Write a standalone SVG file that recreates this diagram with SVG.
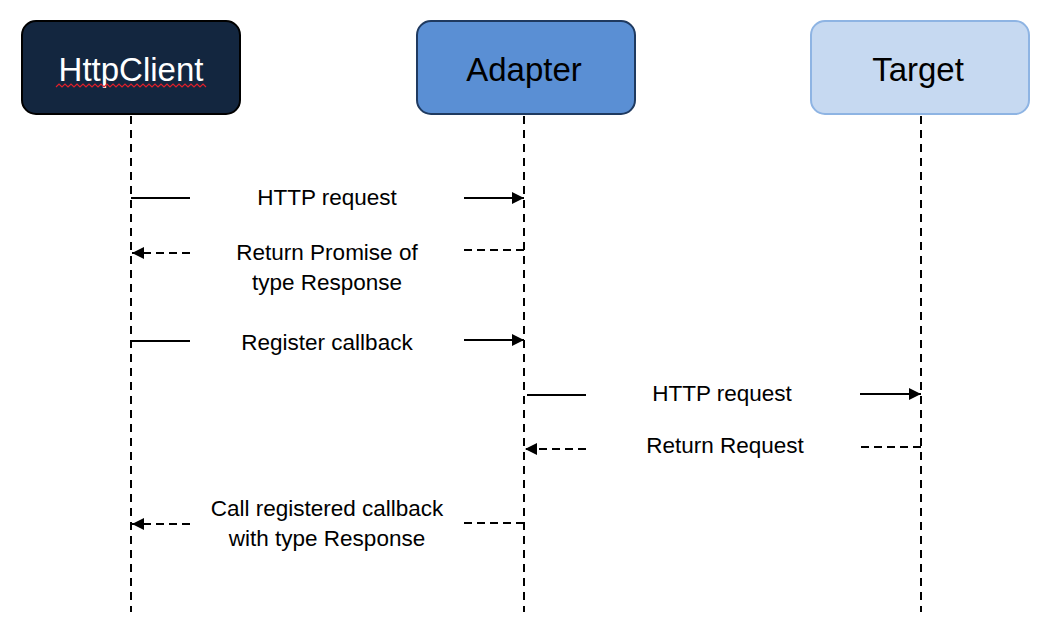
<svg xmlns="http://www.w3.org/2000/svg" width="1058" height="640" viewBox="0 0 1058 640">
<style>
.box{stroke-width:2}
.title{font-family:"Liberation Sans",Arial,sans-serif;font-size:33px;text-anchor:middle}
.lbl{font-family:"Liberation Sans",Arial,sans-serif;font-size:22.5px;text-anchor:middle;fill:#000}
.life{stroke:#000;stroke-width:2;stroke-dasharray:8 6;fill:none}
.solid{stroke:#000;stroke-width:2;fill:none}
.dash{stroke:#000;stroke-width:2;stroke-dasharray:8 5;fill:none}
</style>
<defs>
<marker id="ah" viewBox="0 0 10 10" refX="10" refY="5" markerWidth="12" markerHeight="12" markerUnits="userSpaceOnUse" orient="auto">
<path d="M0,0 L10,5 L0,10 Z" fill="#000"/>
</marker>
</defs>
<rect width="1058" height="640" fill="#fff"/>
<g id="httpclient">
<rect class="box" x="22" y="21" width="218" height="93" rx="14" fill="#13263f" stroke="#000"/>
<text class="title" x="131" y="81" fill="#fff">HttpClient</text>
<polyline points="56,87 59,84 62,87 65,84 68,87 71,84 74,87 77,84 80,87 83,84 86,87 89,84 92,87 95,84 98,87 101,84 104,87 107,84 110,87 113,84 116,87 119,84 122,87 125,84 128,87 131,84 134,87 137,84 140,87 143,84 146,87 149,84 152,87 155,84 158,87 161,84 164,87 167,84 170,87 173,84 176,87 179,84 182,87 185,84 188,87 191,84 194,87 197,84 200,87 203,84 206,87" fill="none" stroke="#e0202a" stroke-width="1.2"/>
</g>
<g id="adapter">
<rect class="box" x="417" y="21" width="218" height="93" rx="14" fill="#5a8fd4" stroke="#1f3a60"/>
<text class="title" x="524" y="81" fill="#000">Adapter</text>
</g>
<g id="target">
<rect class="box" x="811" y="21" width="218" height="93" rx="14" fill="#c6d9f1" stroke="#8eb4e3"/>
<text class="title" x="918" y="81" fill="#000">Target</text>
</g>
<g id="lifelines">
<line class="life" x1="131" y1="116" x2="131" y2="612"/>
<line class="life" x1="524" y1="116" x2="524" y2="612"/>
<line class="life" x1="921" y1="116" x2="921" y2="612"/>
</g>
<g id="connectors">
<line class="solid" x1="131" y1="198" x2="190" y2="198"/>
<line class="solid" x1="464" y1="198" x2="524" y2="198" marker-end="url(#ah)"/>
<line class="dash" x1="524" y1="250" x2="464" y2="250"/>
<line class="dash" x1="190" y1="253" x2="132" y2="253" marker-end="url(#ah)"/>
<line class="solid" x1="131" y1="341" x2="190" y2="341"/>
<line class="solid" x1="464" y1="340" x2="524" y2="340" marker-end="url(#ah)"/>
<line class="solid" x1="527" y1="395" x2="586" y2="395"/>
<line class="solid" x1="860" y1="394" x2="921" y2="394" marker-end="url(#ah)"/>
<line class="dash" x1="921" y1="447" x2="860" y2="447"/>
<line class="dash" x1="586" y1="449" x2="525" y2="449" marker-end="url(#ah)"/>
<line class="dash" x1="524" y1="523" x2="464" y2="523"/>
<line class="dash" x1="190" y1="524" x2="132" y2="524" marker-end="url(#ah)"/>
</g>
<g id="labels">
<text class="lbl" x="327" y="205">HTTP request</text>
<text class="lbl" x="327" y="260">Return Promise of</text>
<text class="lbl" x="327" y="290">type Response</text>
<text class="lbl" x="327" y="350">Register callback</text>
<text class="lbl" x="722" y="401">HTTP request</text>
<text class="lbl" x="725" y="453">Return Request</text>
<text class="lbl" x="327" y="516">Call registered callback</text>
<text class="lbl" x="327" y="546">with type Response</text>
</g>
</svg>
